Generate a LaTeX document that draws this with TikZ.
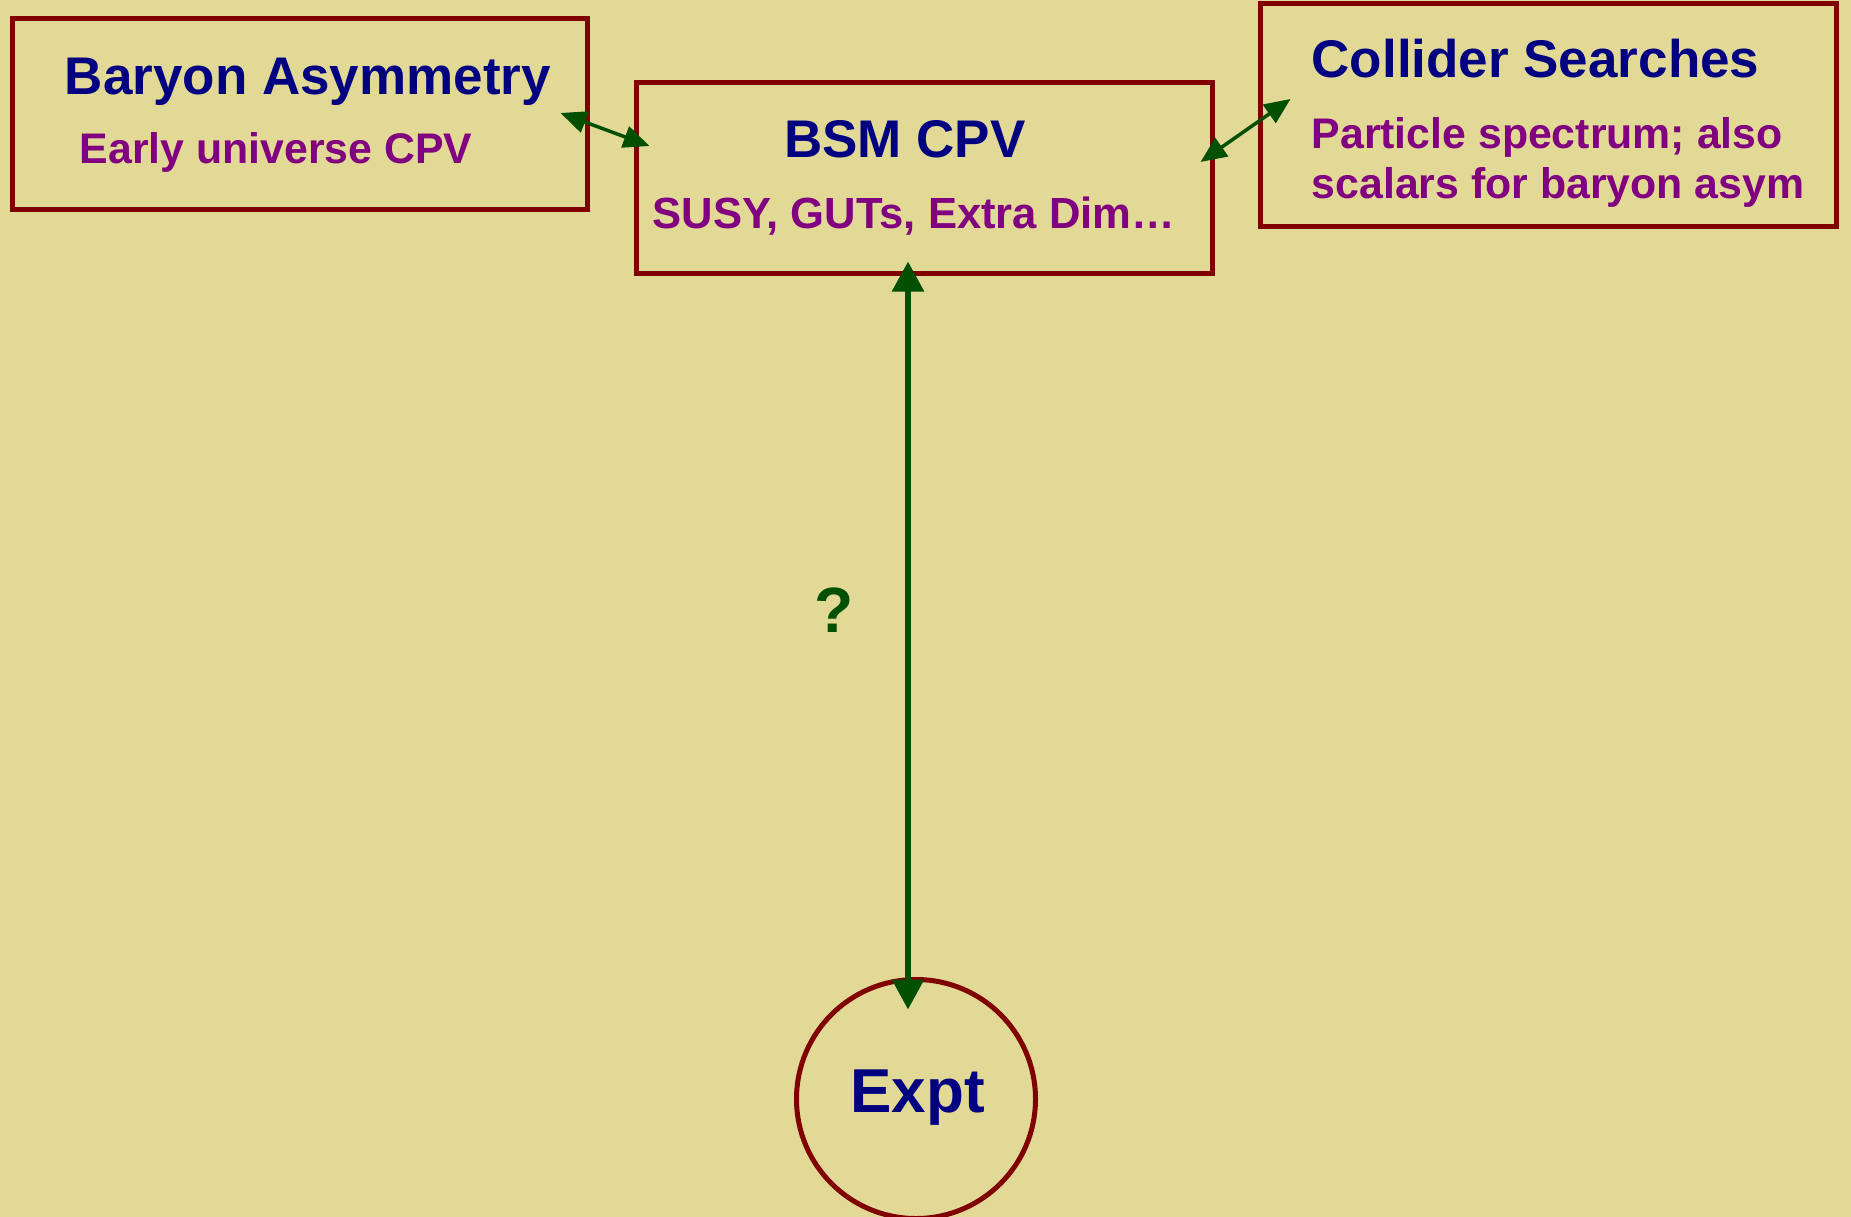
\documentclass[tikz,border=0pt]{standalone}
\usepackage{fontspec}
\setmainfont{Liberation Sans}
\usetikzlibrary{arrows.meta,calc}
\definecolor{bgtan}{RGB}{227,217,151}
\definecolor{boxred}{RGB}{128,0,0}
\definecolor{titlenavy}{RGB}{0,0,128}
\definecolor{subpurple}{RGB}{128,0,128}
\definecolor{arrgreen}{RGB}{0,80,0}
\tikzset{
  box/.style={draw=boxred, line width=5pt, inner sep=0pt},
  ttl/.style={text=titlenavy, inner sep=0pt, font=\bfseries\fontsize{53}{60}\selectfont},
  sub/.style={text=subpurple, inner sep=0pt, font=\bfseries\fontsize{42.8}{50}\selectfont},
  bigarr/.style={draw=arrgreen, line width=5.7pt, {Triangle[length=30pt,width=31pt]}-{Triangle[length=30pt,width=31pt]}},
  smallarr/.style={draw=arrgreen, line width=3.5pt, {Triangle[length=26pt,width=22pt]}-{Triangle[length=26pt,width=22pt]}}
}
\begin{document}
\begin{tikzpicture}[x=1pt,y=-1pt]
\fill[bgtan] (0,0) rectangle (1851,1217);
\useasboundingbox (0,0) rectangle (1851,1217);
% boxes
\node[box, minimum width=575pt, minimum height=191pt] (baryon) at (300,114) {};
\node[box, minimum width=576pt, minimum height=191pt] (bsm) at (924.5,178) {};
\node[box, minimum width=576.5pt, minimum height=223pt] (collider) at (1548.25,115) {};
\node[draw=boxred, line width=5pt, circle, minimum size=239pt, inner sep=0pt] (expt) at (916,1099) {};
% texts
\node[ttl, anchor=base] (baryonT) at (308,95) {Baryon Asymmetry};
\node[sub, anchor=base] (baryonS) at (276,164) {Early universe CPV};
\node[ttl, anchor=base] (bsmT) at (905,158) {BSM CPV};
\node[sub, anchor=base, font=\bfseries\fontsize{43.6}{50}\selectfont] (bsmS) at (914,228) {SUSY, GUTs, Extra Dim…};
\node[ttl, anchor=base] (colT) at (1535.5,78) {Collider Searches};
\node[sub, anchor=base west] (colS1) at (1311.5,149) {Particle spectrum; also};
\node[sub, anchor=base west] (colS2) at (1311.5,199) {scalars for baryon asym};
\node[text=titlenavy, inner sep=0pt, anchor=base, font=\bfseries\fontsize{62}{70}\selectfont] (exptT) at (917.5,1112) {Expt};
\node[text=arrgreen, inner sep=0pt, anchor=base, font=\bfseries\fontsize{64}{70}\selectfont] (qm) at (834,632) {?};
% arrow end points
\coordinate (a1) at ($(baryon.east)+(-29.5,-1)$);
\coordinate (a2) at ($(bsm.west)+(15.5,-32)$);
\coordinate (b1) at ($(bsm.east)+(-14.5,-16)$);
\coordinate (b2) at ($(collider.west)+(33,-16)$);
\coordinate (c1) at ($(bsm.south)+(-16.5,-14.5)$);
\coordinate (c2) at ($(expt.north)+(-8,32.5)$);
\draw[smallarr] (a1) -- (a2);
\draw[smallarr] (b1) -- (b2);
\draw[bigarr] (c1) -- (c2);
\end{tikzpicture}
\end{document}
